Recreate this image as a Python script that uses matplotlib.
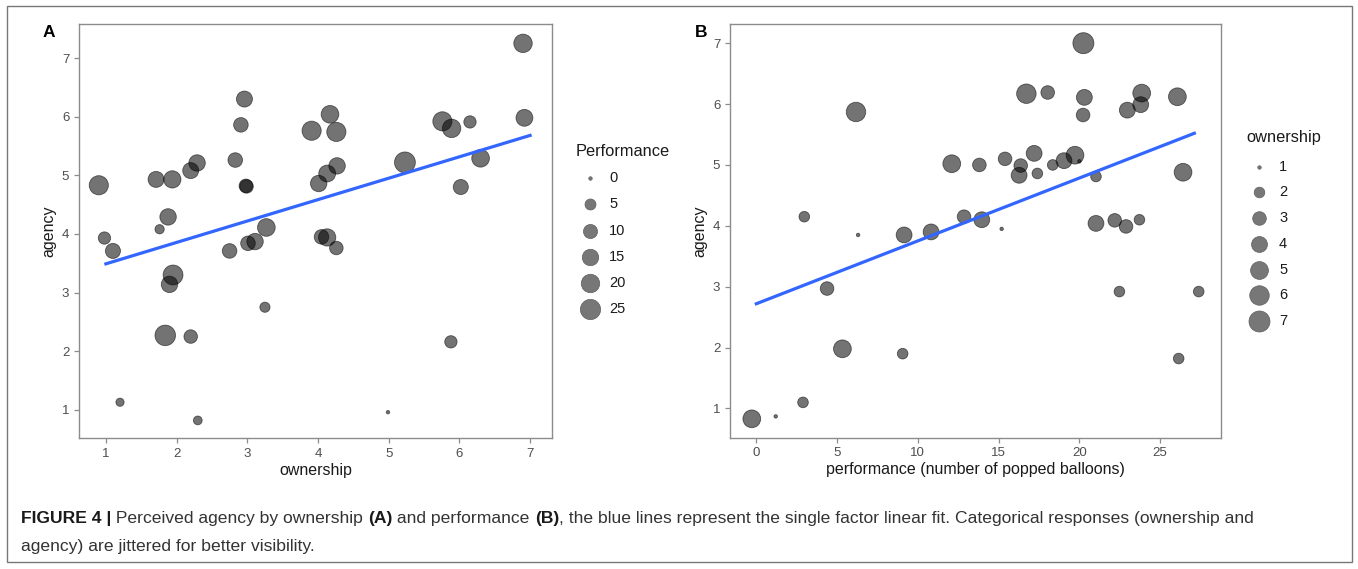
import numpy as np
import matplotlib
matplotlib.use("Agg")
import matplotlib.pyplot as plt
from matplotlib.patches import Rectangle

plt.rcParams['font.family'] = ['Liberation Sans', 'DejaVu Sans']

# panel A: ownership (jittered) vs agency (jittered), size = performance
own_a = [0.90, 0.98, 1.10, 1.20, 1.71, 1.94, 1.76, 1.88, 1.95, 1.90, 1.84, 2.20, 2.30,
         2.20, 2.29, 2.83, 2.91, 2.96, 2.98, 2.99, 2.75, 3.01, 3.11, 3.27, 3.25,
         3.91, 4.17, 4.26, 4.27, 4.13, 4.01, 4.05, 4.13, 4.26, 5.23, 4.99,
         5.76, 5.89, 6.15, 6.30, 6.02, 5.88, 6.90, 6.92]
agency_a = [4.83, 3.93, 3.71, 1.13, 4.93, 4.93, 4.08, 4.29, 3.30, 3.14, 2.27, 2.25, 0.82,
            5.08, 5.21, 5.26, 5.86, 6.30, 4.82, 4.81, 3.71, 3.84, 3.87, 4.11, 2.75,
            5.76, 6.04, 5.74, 5.16, 5.03, 4.86, 3.95, 3.94, 3.76, 5.22, 0.96,
            5.92, 5.80, 5.91, 5.29, 4.80, 2.16, 7.25, 5.98]
perf_a = [22, 7, 12, 2, 14, 17, 3, 15, 24, 15, 26, 9, 2.5,
          14, 15, 11, 11, 14, 9, 9, 11, 11, 15, 18, 4,
          22, 18, 22, 15, 16, 15, 11, 17, 9, 27, 0,
          22, 20, 7, 18, 12, 7, 20, 16]
fit_a_x = [1, 7]
fit_a_y = [3.49, 5.68]

# panel B: performance vs agency (jittered), size = ownership
perf_b = [-0.28, 1.20, 2.89, 2.97, 4.38, 5.33, 6.17, 6.30, 9.06, 9.15, 10.82, 12.10,
          12.86, 13.81, 13.96, 15.19, 15.40, 16.37, 16.27, 17.20, 17.40, 16.72, 18.04,
          18.35, 19.05, 19.73, 20.00, 20.25, 20.31, 20.23, 21.03, 21.03, 22.19, 22.89,
          23.72, 22.48, 22.97, 23.80, 23.86, 26.07, 26.42, 26.15, 27.39]
agency_b = [0.83, 0.87, 1.10, 4.15, 2.97, 1.98, 5.87, 3.85, 1.90, 3.85, 3.90, 5.02,
            4.15, 5.00, 4.10, 3.95, 5.10, 4.99, 4.83, 5.19, 4.86, 6.17, 6.19,
            5.00, 5.07, 5.16, 5.06, 7.00, 6.11, 5.82, 4.81, 4.04, 4.09, 3.99,
            4.10, 2.92, 5.90, 5.99, 6.18, 6.12, 4.88, 1.82, 2.92]
own_b = [5, 1, 2, 2, 3, 5, 6, 1, 2, 4, 4, 5,
         3, 3, 4, 1, 3, 3, 4, 4, 2, 6, 3,
         2, 4, 5, 1, 7, 4, 3, 2, 4, 3, 3,
         2, 2, 4, 4, 5, 5, 5, 2, 2]
fit_b_x = [0, 27.12]
fit_b_y = [2.72, 5.52]

leg_a_vals = [0, 5, 10, 15, 20, 25]
leg_b_vals = [1, 2, 3, 4, 5, 6, 7]

W, H = 1358, 569
DPI = 100


def size_pts(v, vmin, vmax, dmax=21.0):
    t = (np.asarray(v, float) - vmin) / (vmax - vmin)
    t = np.clip(t, 0, 1)
    d_px = dmax * (1 + 5 * np.sqrt(t)) / 6
    return (d_px * 72 / DPI) ** 2


fig = plt.figure(figsize=(W / DPI, H / DPI), dpi=DPI)

tick_col = '#4d4d4d'
frame_col = '#8c8c8c'
txt_col = '#1a1a1a'


def style(ax):
    for s in ax.spines.values():
        s.set_color(frame_col)
        s.set_linewidth(1.0)
    ax.tick_params(colors=frame_col, labelcolor=tick_col, labelsize=9.5,
                   length=3.5, width=0.9)


def fx(px):
    return px / W


def fy(py):
    return 1 - py / H


# panel A
axA = fig.add_axes([fx(79), fy(438), fx(552) - fx(79), fy(24) - fy(438)])
pmax = max(max(perf_a), max(perf_b))
axA.scatter(own_a, agency_a, s=size_pts(perf_a, 0, pmax), c='black', alpha=0.55,
            edgecolors='black', linewidths=0.6, zorder=2)
axA.plot(fit_a_x, fit_a_y, color='#3366FF', lw=2.3, zorder=3)
axA.set_xlim(0.62, 7.31)
axA.set_ylim(0.52, 7.58)
axA.set_xticks([1, 2, 3, 4, 5, 6, 7])
axA.set_yticks([1, 2, 3, 4, 5, 6, 7])
axA.set_xlabel('ownership', fontsize=11.5, labelpad=2, color=txt_col)
axA.set_ylabel('agency', fontsize=11.5, labelpad=4, color=txt_col)
style(axA)

# panel B
axB = fig.add_axes([fx(730), fy(437.7), fx(1221) - fx(730), fy(24.3) - fy(437.7)])
axB.scatter(perf_b, agency_b, s=size_pts(own_b, 1, 7), c='black', alpha=0.55,
            edgecolors='black', linewidths=0.6, zorder=2)
axB.plot(fit_b_x, fit_b_y, color='#3366FF', lw=2.3, zorder=3)
axB.set_xlim(-1.63, 28.77)
axB.set_ylim(0.52, 7.31)
axB.set_xticks([0, 5, 10, 15, 20, 25])
axB.set_yticks([1, 2, 3, 4, 5, 6, 7])
axB.set_xlabel('performance (number of popped balloons)', fontsize=11.5, labelpad=2,
               color=txt_col)
axB.set_ylabel('agency', fontsize=11.5, labelpad=4, color=txt_col)
style(axB)

# overlay in pixel coordinates for border, legends, caption
ov = fig.add_axes([0, 0, 1, 1], zorder=-1)
ov.set_xlim(0, W)
ov.set_ylim(H, 0)
ov.axis('off')
ov.add_patch(Rectangle((7, 6), 1345, 556, fill=False, ec='#777777', lw=1.0))

ov2 = fig.add_axes([0, 0, 1, 1], zorder=5)
ov2.set_xlim(0, W)
ov2.set_ylim(H, 0)
ov2.axis('off')
ov2.patch.set_alpha(0)

ov2.text(43, 32, 'A', fontsize=12.5, fontweight='bold', va='center')
ov2.text(695, 32, 'B', fontsize=12.5, fontweight='bold', va='center')

# legend A
ov2.text(576, 151, 'Performance', fontsize=11.8, va='center', color=txt_col)
ly = 178.3
for v in leg_a_vals:
    ov2.scatter([590], [ly], s=size_pts(v, 0, pmax), c='#777777', edgecolors='#5e5e5e',
                linewidths=0.5)
    ov2.text(609, ly, str(v), fontsize=10.5, va='center', color=txt_col)
    ly += 26.1

# legend B
ov2.text(1246, 137, 'ownership', fontsize=11.8, va='center', color=txt_col)
ly = 166.7
for v in leg_b_vals:
    ov2.scatter([1259], [ly], s=size_pts(v, 1, 7), c='#777777', edgecolors='#5e5e5e',
                linewidths=0.5)
    ov2.text(1279, ly, str(v), fontsize=10.5, va='center', color=txt_col)
    ly += 25.7

# caption
cap_col = '#333333'
cap_fs = 12.6
fig.canvas.draw()
renderer = fig.canvas.get_renderer()
pieces = [('FIGURE 4 |', 'bold', '#1a1a1a'),
          (' Perceived agency by ownership ', 'normal', cap_col),
          ('(A)', 'bold', '#1a1a1a'),
          (' and performance ', 'normal', cap_col),
          ('(B)', 'bold', '#1a1a1a'),
          (', the blue lines represent the single factor linear fit. Categorical responses (ownership and',
           'normal', cap_col)]
x = 21
for txt, wt, col in pieces:
    t = ov2.text(x, 519, txt, fontsize=cap_fs, fontweight=wt, va='center', color=col)
    bb = t.get_window_extent(renderer=renderer)
    x += bb.width
ov2.text(21, 547, 'agency) are jittered for better visibility.', fontsize=cap_fs,
         va='center', color=cap_col)

fig.savefig('out.png', dpi=DPI)
